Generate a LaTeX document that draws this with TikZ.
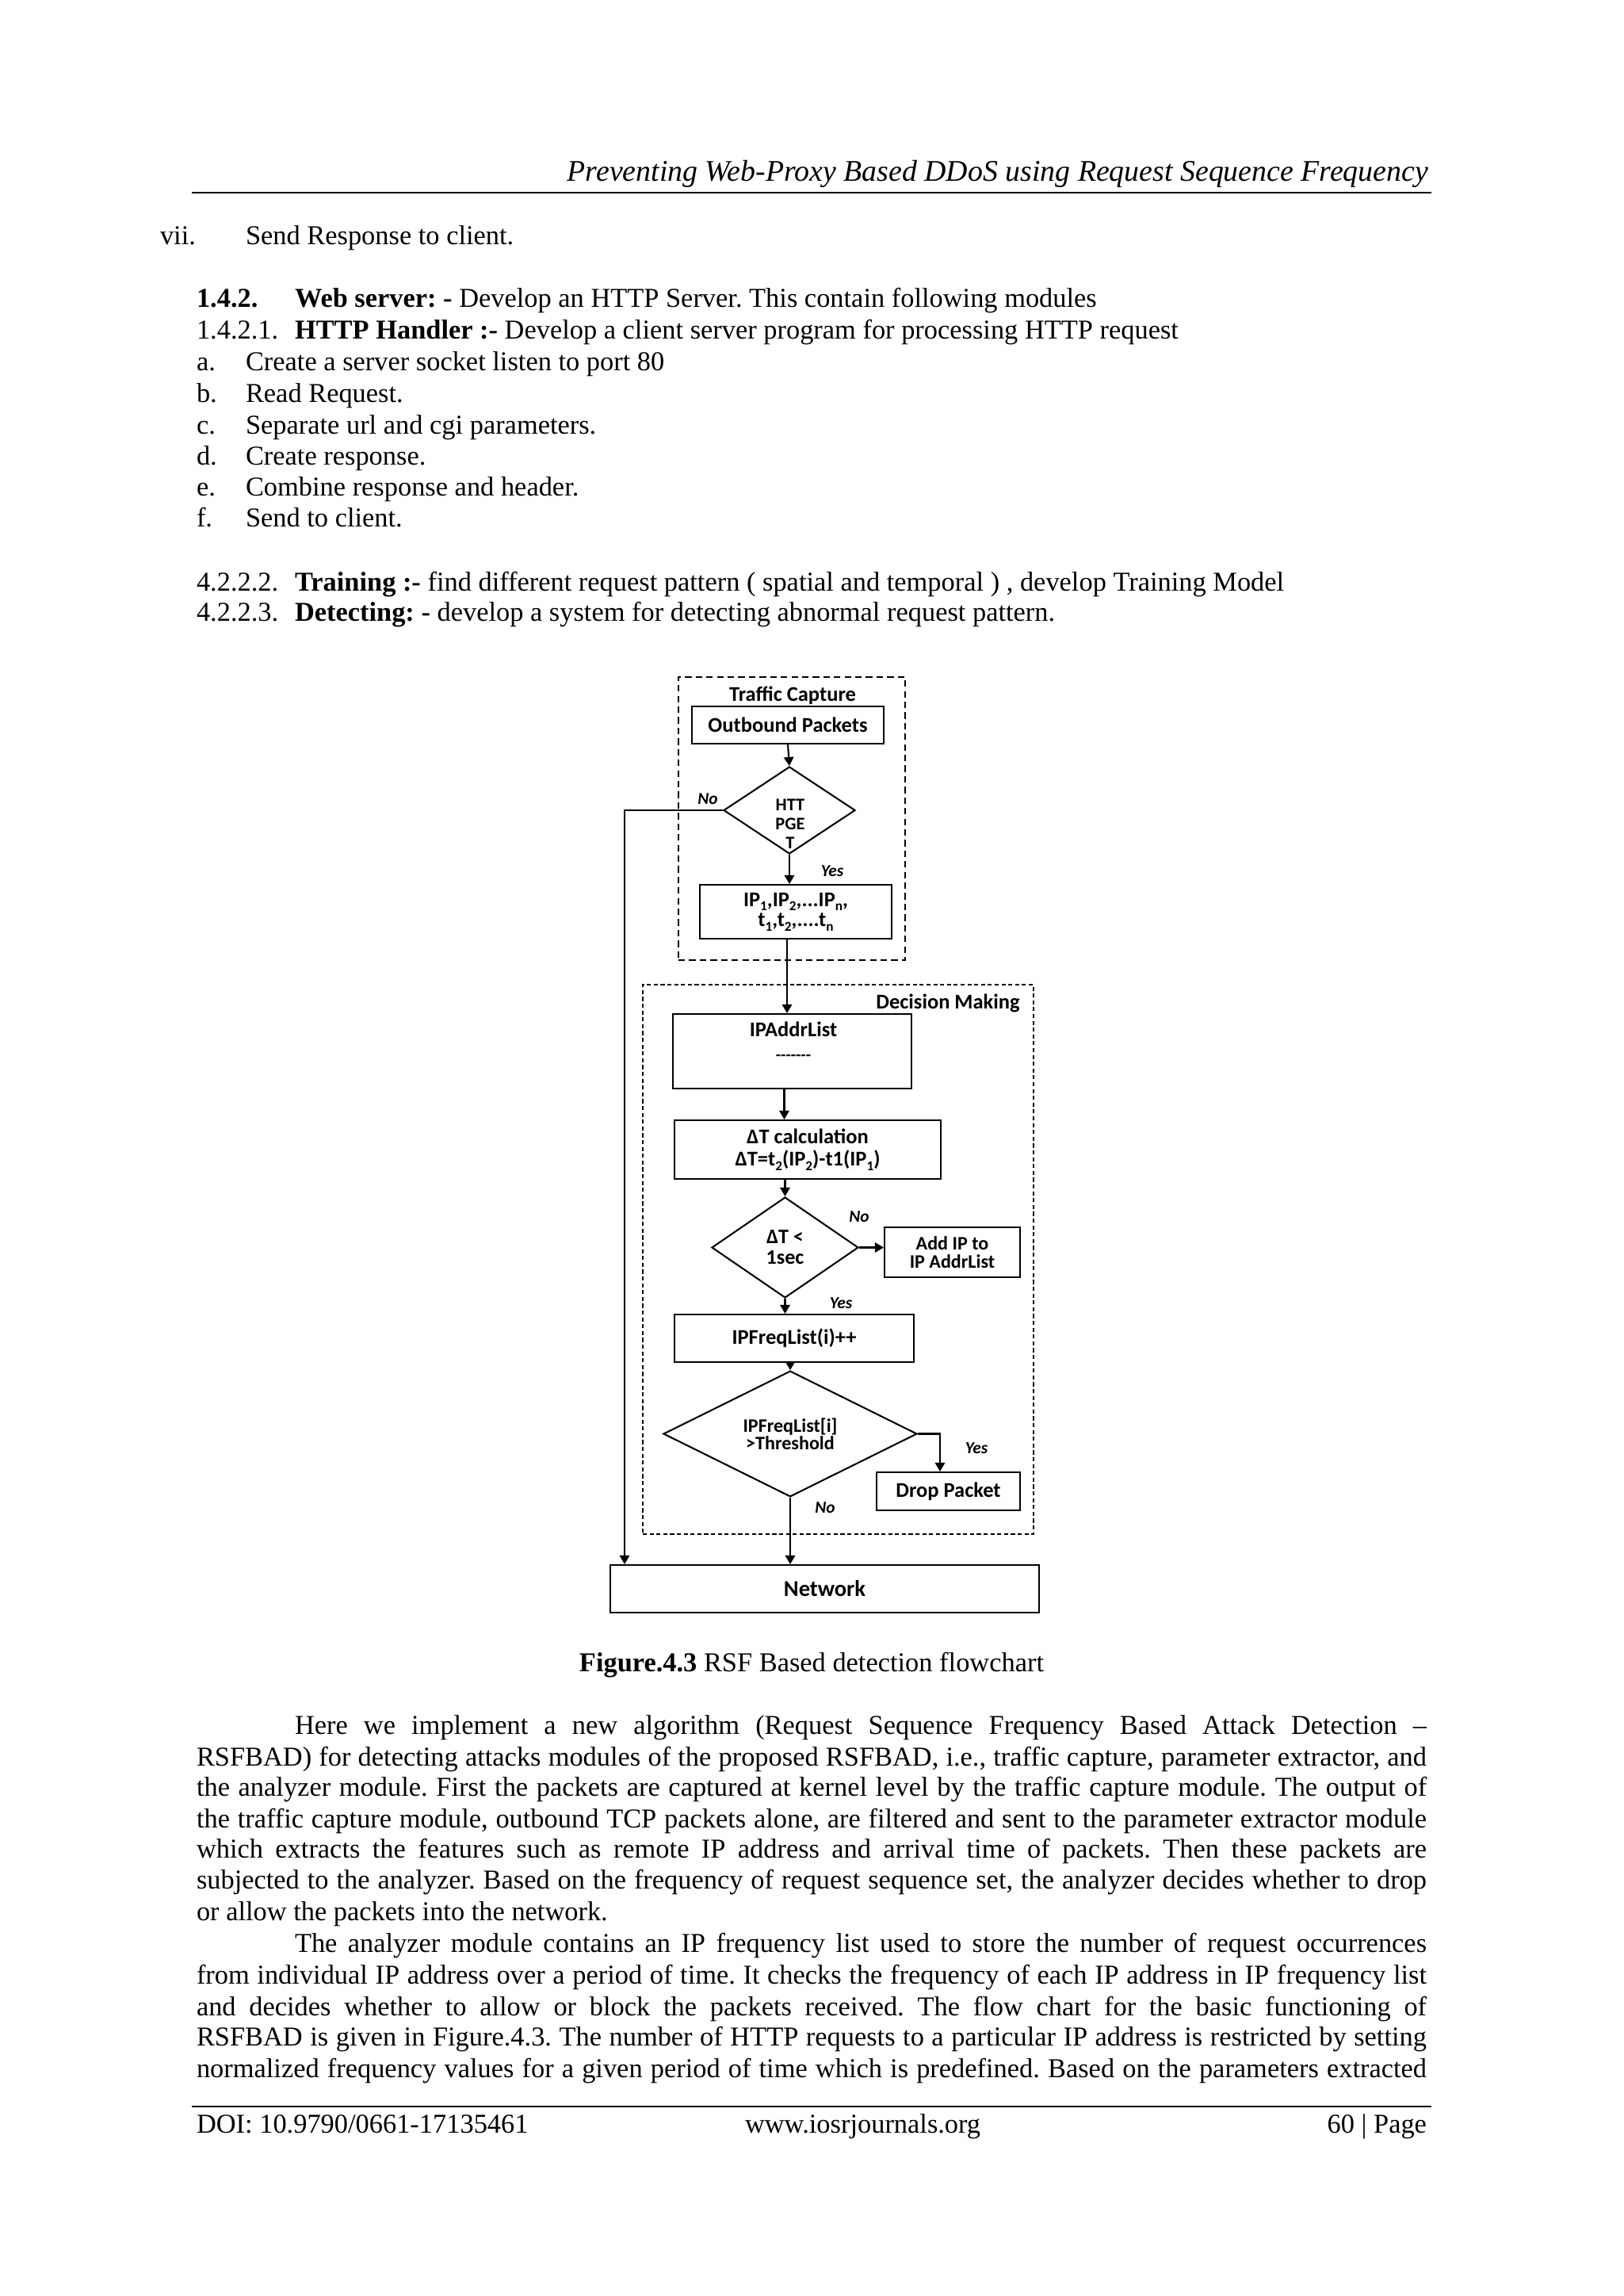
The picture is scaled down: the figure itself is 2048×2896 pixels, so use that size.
\documentclass[tikz,border=0pt]{standalone}
\usepackage{fontspec}
\usepackage{graphicx}
\setmainfont{Liberation Serif}
\newfontfamily\flowfont{Carlito}
\usetikzlibrary{shapes.geometric,arrows.meta,calc}
\frenchspacing
\newdimen\pxu
\pxu=0.290665pt
\newsavebox\jbox
\newcommand\jline[2]{\sbox\jbox{#2}\ifdim\wd\jbox>#1\relax\resizebox{#1}{\height}{\usebox\jbox}\else\makebox[#1][s]{#2}\fi}
\newcommand\lsub[1]{\raisebox{-0.45ex}{\fontsize{5}{5}\selectfont #1}}
\begin{document}
\begin{tikzpicture}[x=0.290665pt,y=-0.290665pt,
  body/.style={anchor=base west, inner sep=0pt, outer sep=0pt, font=\fontsize{10}{12}\selectfont},
  box/.style={draw, line width=0.6pt, inner sep=0pt, align=center, font=\flowfont\bfseries\fontsize{7.7}{8.1}\selectfont},
  dia/.style={diamond, draw, line width=0.6pt, inner sep=0pt, align=center, font=\flowfont\bfseries\fontsize{7.6}{7.6}\selectfont},
  ftxt/.style={inner sep=0pt, align=center, font=\flowfont\bfseries\fontsize{7.7}{8.1}\selectfont},
  yn/.style={inner sep=0pt, font=\flowfont\bfseries\itshape\fontsize{6.2}{7}\selectfont},
  arr/.style={line width=0.6pt, -{Triangle[length=3.2pt,width=3.6pt]}},
  conn/.style={line width=0.6pt},
  tcbox/.style={draw, line width=0.65pt, dash pattern=on 2.4pt off 1.5pt, inner sep=0pt},
  dmbox/.style={draw, line width=0.45pt, dash pattern=on 1.5pt off 1pt, inner sep=0pt}]
\fill[white] (0,0) rectangle (2048,2896);
\useasboundingbox (0,0) rectangle (2048,2896);

% ---------- header ----------
\node[body, anchor=base east, font=\itshape\fontsize{11}{13}\selectfont] (hdr) at (1802,228) {Preventing Web-Proxy Based DDoS using Request Sequence Frequency};
\coordinate (hrA) at (242,243);
\coordinate (hrB) at (1806,243);
\draw[line width=0.75pt] (hrA) -- (hrB);

% ---------- top text ----------
\node[body] (n1) at (202,308) {vii.};
\node[body] (t1) at (310,308) {Send Response to client.};
\node[body] (n2) at (248,387) {\bfseries 1.4.2.};
\node[body] (t2) at (372,387) {\textbf{Web server: -} Develop an HTTP Server. This contain following modules};
\node[body] (n3) at (248,427) {1.4.2.1.};
\node[body] (t3) at (372,427) {\textbf{HTTP Handler :-} Develop a client server program for processing HTTP request};
\node[body] (n4) at (248,467) {a.};
\node[body] (t4) at (310,467) {Create a server socket listen to port 80};
\node[body] (n5) at (248,507) {b.};
\node[body] (t5) at (310,507) {Read Request.};
\node[body] (n6) at (248,547) {c.};
\node[body] (t6) at (310,547) {Separate url and cgi parameters.};
\node[body] (n7) at (248,586) {d.};
\node[body] (t7) at (310,586) {Create response.};
\node[body] (n8) at (248,625) {e.};
\node[body] (t8) at (310,625) {Combine response and header.};
\node[body] (n9) at (248,664) {f.};
\node[body] (t9) at (310,664) {Send to client.};
\node[body] (n10) at (248,745) {4.2.2.2.};
\node[body] (t10) at (372,745) {\textbf{Training :-} find different request pattern ( spatial and temporal ) , develop Training Model};
\node[body] (n11) at (248,783) {4.2.2.3.};
\node[body] (t11) at (372,783) {\textbf{Detecting: -} develop a system for detecting abnormal request pattern.};

% ---------- flowchart containers ----------
\node[tcbox, minimum width=286*\pxu, minimum height=357*\pxu] (tc) at (999,1032.5) {};
\node[ftxt] (tcl) at (1000,877) {Traffic Capture};
\node[dmbox, minimum width=493*\pxu, minimum height=693*\pxu] (dm) at (1057.5,1588.5) {};
\node[ftxt] (dml) at (1196,1265) {Decision Making};

% ---------- flowchart nodes ----------
\node[box, minimum width=242*\pxu, minimum height=47*\pxu] (outb) at (994,914.5) {Outbound Packets};
\node[dia, minimum width=166*\pxu, minimum height=110*\pxu] (d1) at (996,1022) {};
\node[ftxt, font=\flowfont\bfseries\fontsize{6.5}{7}\selectfont] (d1t) at (997,1039) {HTT\\PGE\\T};
\node[box, minimum width=242*\pxu, minimum height=68*\pxu, font=\flowfont\bfseries\fontsize{7.7}{7.3}\selectfont] (ip) at (1004,1150) {IP\lsub{1},IP\lsub{2},...IP\lsub{n},\\t\lsub{1},t\lsub{2},....t\lsub{n}};
\node[box, minimum width=301*\pxu, minimum height=94*\pxu] (addr) at (999.5,1326) {};
\node[ftxt, font=\flowfont\bfseries\fontsize{7.7}{8.7}\selectfont] (addrt) at (1001,1313) {IPAddrList\\{\fontsize{6}{6}\selectfont -{}-{}-{}-{}-{}-{}-}};
\node[box, minimum width=336*\pxu, minimum height=74*\pxu] (dtc) at (1019,1450) {ΔT calculation\\ΔT=t\lsub{2}(IP\lsub{2})-t1(IP\lsub{1})};
\node[dia, minimum width=185*\pxu, minimum height=127*\pxu] (d2) at (990.5,1573.5) {ΔT <\\1sec};
\node[box, minimum width=171*\pxu, minimum height=63*\pxu, font=\flowfont\bfseries\fontsize{7}{6.7}\selectfont] (addip) at (1201.5,1579.5) {Add IP to\\IP AddrList};
\node[box, minimum width=302*\pxu, minimum height=60*\pxu] (freq) at (1002,1688) {IPFreqList(i)++};
\node[dia, minimum width=320*\pxu, minimum height=119*\pxu, font=\flowfont\bfseries\fontsize{7}{6.4}\selectfont] (d3) at (997,1808.5) {IPFreqList[i]\\>Threshold};
\node[box, minimum width=181*\pxu, minimum height=48*\pxu] (drop) at (1196.5,1881) {Drop Packet};
\node[box, minimum width=541*\pxu, minimum height=60*\pxu, font=\flowfont\bfseries\fontsize{8.3}{9}\selectfont] (net) at (1040.5,2004) {Network};

% ---------- connectors ----------
\draw[arr] (outb.south) -- (d1.north);
\draw[arr] (d1.south) -- (d1.south |- ip.north);
\coordinate (ipdown) at ($(ip.south)+(-11,0)$);
\draw[arr] (ipdown) -- (ipdown |- addr.north);
\coordinate (addrdown) at ($(addr.south)+(-10,0)$);
\draw[arr] (addrdown) -- (addrdown |- dtc.north);
\draw[arr] (d2.north |- dtc.south) -- (d2.north);
\draw[arr] (d2.east) -- (d2.east -| addip.west);
\draw[arr] (d2.south) -- (d2.south |- freq.north);
\draw[arr] (d3.north |- freq.south) -- (d3.north);
\coordinate (dropin) at ($(drop.north)+(-10.5,0)$);
\draw[arr] (d3.east) -| (dropin);
\draw[arr] (d3.south) -- (d3.south |- net.north);
\coordinate (leftc) at (788,1022);
\draw[arr] (d1.west) -- (leftc) -- (leftc |- net.north);

% ---------- yes / no labels ----------
\node[yn] (no1) at (893,1008) {No};
\node[yn] (yes1) at (1050,1099) {Yes};
\node[yn] (no2) at (1084,1535) {No};
\node[yn] (yes2) at (1061,1644) {Yes};
\node[yn] (yes3) at (1232,1827) {Yes};
\node[yn] (no3) at (1041,1902) {No};

% ---------- caption ----------
\node[body, anchor=base] (cap) at (1024,2108) {\textbf{Figure.4.3} RSF Based detection flowchart};

% ---------- paragraphs ----------
\node[body] (p1) at (372,2187) {\jline{1428\pxu}{Here we implement a new algorithm (Request Sequence Frequency Based Attack Detection –}};
\node[body] (p2) at (248,2227) {\jline{1552\pxu}{RSFBAD) for detecting attacks modules of the proposed RSFBAD, i.e., traffic capture, parameter extractor, and}};
\node[body] (p3) at (248,2265) {\jline{1552\pxu}{the analyzer module. First the packets are captured at kernel level by the traffic capture module. The output of}};
\node[body] (p4) at (248,2305) {\jline{1552\pxu}{the traffic capture module, outbound TCP packets alone, are filtered and sent to the parameter extractor module}};
\node[body] (p5) at (248,2343) {\jline{1552\pxu}{which extracts the features such as remote IP address and arrival time of packets. Then these packets are}};
\node[body] (p6) at (248,2382) {\jline{1552\pxu}{subjected to the analyzer. Based on the frequency of request sequence set, the analyzer decides whether to drop}};
\node[body] (p7) at (248,2422) {or allow the packets into the network.};
\node[body] (q1) at (372,2462) {\jline{1428\pxu}{The analyzer module contains an IP frequency list used to store the number of request occurrences}};
\node[body] (q2) at (248,2502) {\jline{1552\pxu}{from individual IP address over a period of time. It checks the frequency of each IP address in IP frequency list}};
\node[body] (q3) at (248,2542) {\jline{1552\pxu}{and decides whether to allow or block the packets received. The flow chart for the basic functioning of}};
\node[body] (q4) at (248,2580) {\jline{1552\pxu}{RSFBAD is given in Figure.4.3. The number of HTTP requests to a particular IP address is restricted by setting}};
\node[body] (q5) at (248,2620) {\jline{1552\pxu}{normalized frequency values for a given period of time which is predefined. Based on the parameters extracted}};

% ---------- footer ----------
\coordinate (frA) at (242,2657);
\coordinate (frB) at (1806,2657);
\draw[line width=0.75pt] (frA) -- (frB);
\node[body] (f1) at (248,2690) {DOI: 10.9790/0661-17135461};
\node[body] (f2) at (940,2690) {www.iosrjournals.org};
\node[body, anchor=base east] (f3) at (1800,2690) {60 | Page};
\end{tikzpicture}
\end{document}
